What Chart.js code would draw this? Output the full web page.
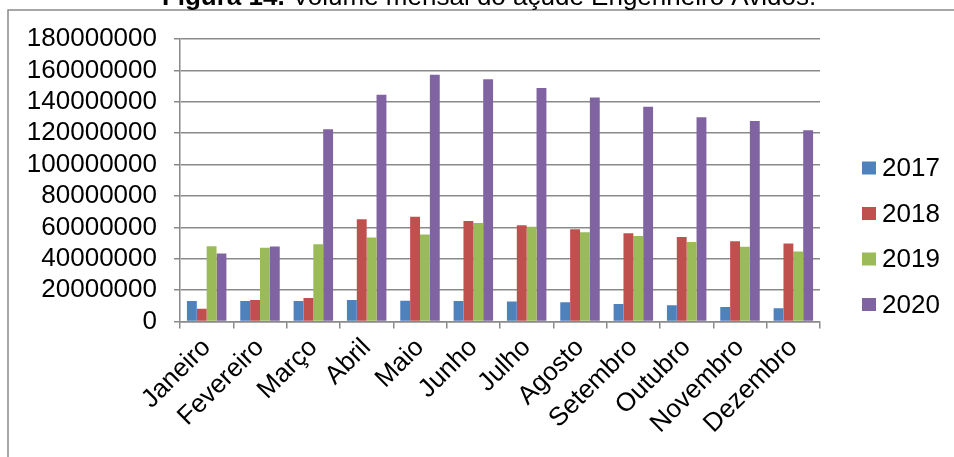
<!DOCTYPE html>
<html>
<head>
<meta charset="utf-8">
<script src="https://cdn.jsdelivr.net/npm/chart.js@4"></script>
<style>
html,body{margin:0;padding:0;background:#fff;}
#wrap{position:relative;width:954px;height:457px;}
</style>
</head>
<body>
<div id="wrap"><canvas id="c" width="954" height="457"></canvas></div>
<script>
const titleBold = "Figura 14.";
const titleRest = " Volume mensal do açude Engenheiro Avidos.";
const months = ["Janeiro","Fevereiro","Março","Abril","Maio","Junho","Julho","Agosto","Setembro","Outubro","Novembro","Dezembro"];
const seriesNames = ["2017","2018","2019","2020"];
const v2017 = [13000000,13000000,13000000,13700000,13200000,13000000,12800000,12200000,11100000,10300000,9200000,8400000];
const v2018 = [8100000,13700000,15000000,65200000,66700000,64100000,61400000,58800000,56300000,53800000,51200000,49700000];
const v2019 = [48000000,47000000,49300000,53600000,55500000,62800000,60300000,56900000,54400000,50600000,47600000,44600000];
const v2020 = [43400000,47800000,122500000,144500000,157200000,154300000,148700000,142800000,136900000,130100000,127700000,121800000];
const yTicks = [0,20000000,40000000,60000000,80000000,100000000,120000000,140000000,160000000,180000000];
const colors = ["#4F81BD","#C0504D","#9BBB59","#8064A2"];

const FONT = "'Liberation Sans', Arial, sans-serif";
Chart.defaults.font.family = FONT;
Chart.defaults.font.size = 26;
Chart.defaults.color = "#000";

const frame = {
  id: 'frame',
  beforeDraw(chart) {
    const ctx = chart.ctx;
    ctx.save();
    ctx.fillStyle = '#fff';
    ctx.fillRect(0,0,chart.width,chart.height);
    ctx.strokeStyle = '#8a8a8a';
    ctx.lineWidth = 1.5;
    ctx.strokeRect(8, 10, 1000, 500);
    ctx.restore();
  },
  afterDraw(chart) {
    const ctx = chart.ctx;
    ctx.save();
    ctx.fillStyle = '#000';
    ctx.textBaseline = 'alphabetic';
    ctx.font = "bold 26px " + FONT;
    const wb = ctx.measureText(titleBold).width;
    ctx.font = "26px " + FONT;
    const wr = ctx.measureText(titleRest).width;
    const x0 = 489 - (wb + wr) / 2;
    ctx.font = "bold 26px " + FONT;
    ctx.fillText(titleBold, x0, 5);
    ctx.font = "26px " + FONT;
    ctx.fillText(titleRest, x0 + wb, 5);
    const ys = [168, 213.5, 259, 304.5];
    chart.data.datasets.forEach((ds, i) => {
      ctx.fillStyle = ds.backgroundColor;
      ctx.fillRect(862, ys[i] - 6.5, 14, 13);
      ctx.fillStyle = '#000';
      ctx.textBaseline = 'middle';
      ctx.font = "26px " + FONT;
      ctx.fillText(ds.label, 882, ys[i] + 1);
    });
    ctx.restore();
  }
};

new Chart(document.getElementById('c'), {
  type: 'bar',
  data: {
    labels: months,
    datasets: [
      {label: seriesNames[0], data: v2017, backgroundColor: colors[0]},
      {label: seriesNames[1], data: v2018, backgroundColor: colors[1]},
      {label: seriesNames[2], data: v2019, backgroundColor: colors[2]},
      {label: seriesNames[3], data: v2020, backgroundColor: colors[3]}
    ]
  },
  options: {
    responsive: false,
    animation: false,
    layout: {padding: {top: 39, right: 134, left: 0, bottom: 0}},
    datasets: {bar: {categoryPercentage: 0.74, barPercentage: 1.0, borderWidth: 0}},
    plugins: {legend: {display: false}, tooltip: {enabled: false}, title: {display: false}},
    scales: {
      x: {
        grid: {display: true, drawOnChartArea: false, drawTicks: true, tickLength: 7, color: '#8a8a8a', lineWidth: 1.5},
        border: {display: true, color: '#8a8a8a', width: 1.5},
        ticks: {autoSkip: false, minRotation: 45, maxRotation: 45, padding: 4, font: {size: 26}},
        afterFit(s) { s.height = 135.5; }
      },
      y: {
        min: 0, max: 180000000,
        afterBuildTicks(s) { s.ticks = yTicks.map(v => ({value: v})); },
        grid: {color: '#8a8a8a', lineWidth: 1.5, tickLength: 6},
        border: {display: true, color: '#8a8a8a', width: 1.5},
        ticks: {autoSkip: false, padding: 17, font: {size: 26}, callback: v => String(v)},
        afterFit(s) { s.width = 180; }
      }
    }
  },
  plugins: [frame]
});
</script>
</body>
</html>
